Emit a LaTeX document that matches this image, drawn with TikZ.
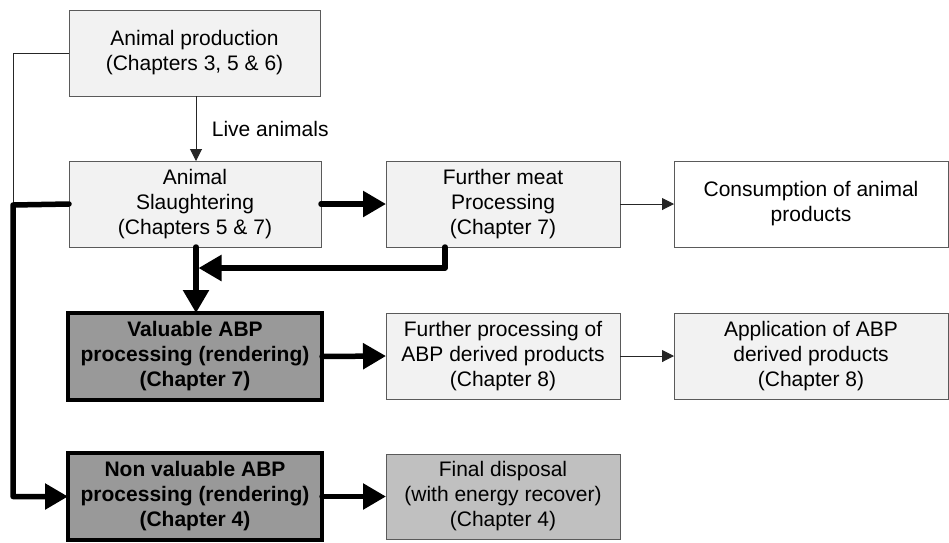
\documentclass[tikz,border=0pt]{standalone}
\usepackage{fontspec}
\setmainfont{Liberation Sans}
\usetikzlibrary{arrows.meta}
\definecolor{lightfill}{HTML}{F2F2F2}
\definecolor{midfill}{HTML}{C0C0C0}
\definecolor{darkfill}{HTML}{999999}
\definecolor{boxline}{HTML}{5A5A5A}
\tikzset{
  box/.style={draw=boxline, line width=1pt, fill=lightfill, inner sep=0pt, outer sep=0pt,
    minimum height=86pt, align=center, font=\fontsize{21}{25}\selectfont},
  plainbox/.style={box, fill=white},
  disposalbox/.style={box, fill=midfill},
  abpbox/.style={box, draw=black, line width=3.5pt, fill=darkfill, minimum height=87pt,
    font=\fontsize{21}{25}\selectfont\bfseries},
  thin/.style={draw=black!85, line width=1pt},
  thinarrow/.style={thin, -{Triangle[length=12pt,width=12pt]}},
  thick flow/.style={draw=black, line width=5.5pt, line cap=round},
  thickarrow/.style={thick flow, -{Triangle[length=23pt,width=25pt]}},
}
\begin{document}
\begin{tikzpicture}[x=1pt,y=-1pt]
  \useasboundingbox (0,0) rectangle (949,542);

  % process boxes
  \node[box, minimum width=251pt] (prod) at (194.5,53) {Animal production\\(Chapters 3, 5 \& 6)};
  \node[box, minimum width=252pt] (slaugh) at (195,204) {Animal\\Slaughtering\\(Chapters 5 \& 7)};
  \node[box, minimum width=234pt] (meat) at (503,204) {Further meat\\Processing\\(Chapter 7)};
  \node[plainbox, minimum width=274pt] (cons) at (811,204) {Consumption of animal\\products};
  \node[abpbox, minimum width=254pt] (val) at (195,356.5) {Valuable ABP\\processing (rendering)\\(Chapter 7)};
  \node[box, minimum width=234pt] (fpabp) at (503,356) {Further processing of\\ABP derived products\\(Chapter 8)};
  \node[box, minimum width=274pt] (app) at (811,356) {Application of ABP\\derived products\\(Chapter 8)};
  \node[abpbox, minimum width=254pt] (nonval) at (195,496.5) {Non valuable ABP\\processing (rendering)\\(Chapter 4)};
  \node[disposalbox, minimum width=234pt, minimum height=85pt] (final) at (503,496.5) {Final disposal\\(with energy recover)\\(Chapter 4)};

  % routing points
  \coordinate (lft) at (13,205);
  \coordinate (join) at (198.5,268);

  % live animals
  \draw[thinarrow] (prod.south -| 196,0) -- node[right=12pt, font=\fontsize{21}{25}\selectfont] (live) {Live animals} (slaugh.north -| 196,0);

  % side line from animal production
  \draw[thin] (prod.west) -| (lft);

  % thick flows
  \draw[thickarrow] (slaugh.east) -- (meat.west);
  \draw[thickarrow] (slaugh.south -| 196,0) -- (val.north -| 196,0);
  \draw[thickarrow, line join=round] (meat.south -| 445,0) |- (join);
  \draw[thickarrow, line join=round] (slaugh.west) -- (lft) |- (nonval.west);
  \draw[thickarrow] (val.east) -- (fpabp.west);
  \draw[thickarrow] (nonval.east) -- (final.west);

  % thin flows
  \draw[thinarrow] (meat.east) -- (cons.west);
  \draw[thinarrow] (fpabp.east) -- (app.west);
\end{tikzpicture}
\end{document}
